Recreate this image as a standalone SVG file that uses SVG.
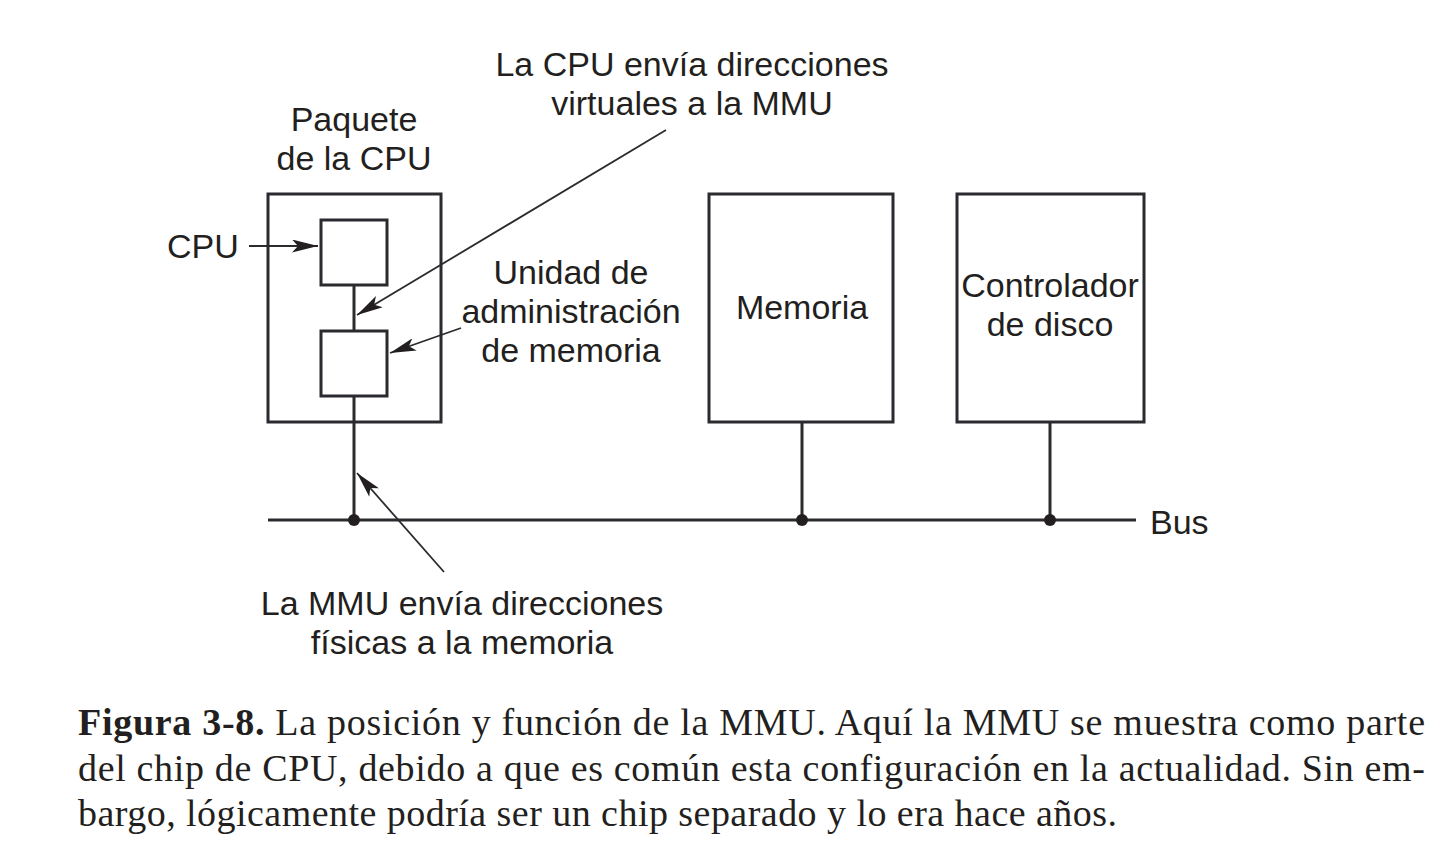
<svg xmlns="http://www.w3.org/2000/svg" width="1452" height="848" viewBox="0 0 1452 848">
<style>
.box{fill:none;stroke:#2b2b2f;stroke-width:3}
.wire{fill:none;stroke:#2b2b2f;stroke-width:3}
.lead{fill:none;stroke:#2b2b2f;stroke-width:1.8}
.lbl{font-family:"Liberation Sans",Arial,sans-serif;font-size:34px;fill:#231f20}
.cap{font-family:"Liberation Serif","Times New Roman",serif;font-size:38px;fill:#231f20}
</style>
<defs>
<marker id="ah" viewBox="0 0 26 13" refX="26" refY="6.5" markerWidth="26" markerHeight="13" markerUnits="userSpaceOnUse" orient="auto">
<path d="M0,0 L26,6.5 L0,13 L6,6.5 Z" fill="#231f20"/>
</marker>
</defs>
<rect width="1452" height="848" fill="#fff"/>
<g id="pkg">
<rect class="box" x="268" y="194" width="173" height="228"/>
<text class="lbl" x="354" y="131" text-anchor="middle">Paquete</text>
<text class="lbl" x="354" y="170" text-anchor="middle">de la CPU</text>
</g>
<g id="cpu">
<rect class="box" x="321" y="220" width="66" height="65"/>
</g>
<g id="mmu">
<rect class="box" x="321" y="331" width="66" height="65"/>
</g>
<g id="memoria">
<rect class="box" x="709" y="194" width="184" height="228"/>
<text class="lbl" x="802" y="319" text-anchor="middle">Memoria</text>
</g>
<g id="disco">
<rect class="box" x="957" y="194" width="187" height="228"/>
<text class="lbl" x="1050" y="297" text-anchor="middle">Controlador</text>
<text class="lbl" x="1050" y="336" text-anchor="middle">de disco</text>
</g>
<g id="labels">
<text class="lbl" x="167" y="258">CPU</text>
<text class="lbl" x="692" y="76" text-anchor="middle">La CPU envía direcciones</text>
<text class="lbl" x="692" y="115" text-anchor="middle">virtuales a la MMU</text>
<text class="lbl" x="571" y="284" text-anchor="middle">Unidad de</text>
<text class="lbl" x="571" y="323" text-anchor="middle">administración</text>
<text class="lbl" x="571" y="362" text-anchor="middle">de memoria</text>
<text class="lbl" x="462" y="615" text-anchor="middle">La MMU envía direcciones</text>
<text class="lbl" x="462" y="654" text-anchor="middle">físicas a la memoria</text>
<text class="lbl" x="1150" y="534">Bus</text>
</g>
<g id="connectors">
<line class="wire" x1="354" y1="285" x2="354" y2="331"/>
<line class="wire" x1="354" y1="396" x2="354" y2="520"/>
<line class="wire" x1="802" y1="422" x2="802" y2="520"/>
<line class="wire" x1="1050" y1="422" x2="1050" y2="520"/>
<line class="wire" x1="268" y1="520" x2="1136" y2="520"/>
<circle cx="354" cy="520" r="6" fill="#231f20"/>
<circle cx="802" cy="520" r="6" fill="#231f20"/>
<circle cx="1050" cy="520" r="6" fill="#231f20"/>
<line class="lead" x1="249" y1="246" x2="318" y2="246" marker-end="url(#ah)"/>
<line class="lead" x1="666" y1="130" x2="357" y2="315" marker-end="url(#ah)"/>
<line class="lead" x1="461" y1="328" x2="390" y2="353" marker-end="url(#ah)"/>
<line class="lead" x1="444" y1="572" x2="357" y2="473" marker-end="url(#ah)"/>
</g>
<g id="caption">
<text class="cap" x="78" y="735" textLength="1347" lengthAdjust="spacing"><tspan font-weight="bold">Figura 3-8.</tspan>  La posición y función de la MMU. Aquí la MMU se muestra como parte</text>
<text class="cap" x="78" y="781" textLength="1347" lengthAdjust="spacing">del chip de CPU, debido a que es común esta configuración en la actualidad. Sin em-</text>
<text class="cap" x="78" y="826" textLength="1039" lengthAdjust="spacing">bargo, lógicamente podría ser un chip separado y lo era hace años.</text>
</g>
</svg>
